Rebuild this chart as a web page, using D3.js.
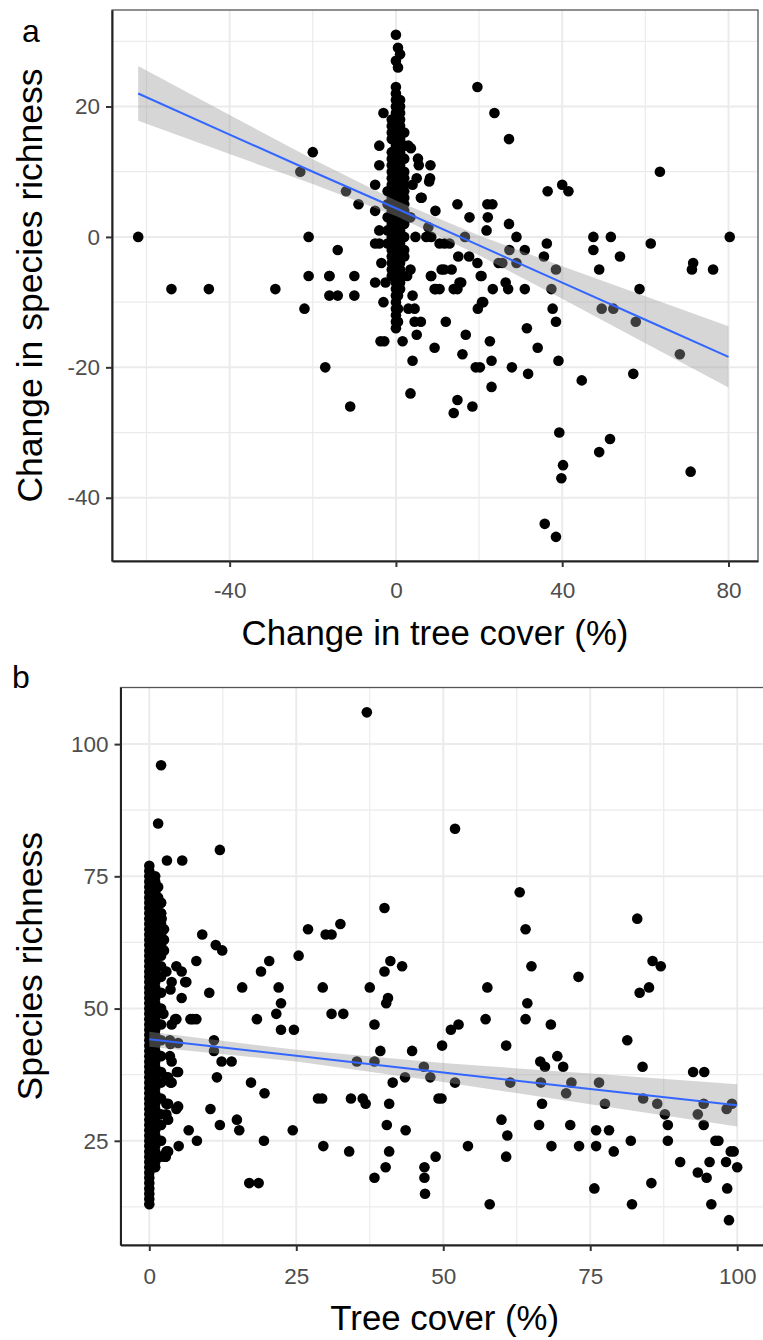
<!DOCTYPE html>
<html>
<head>
<meta charset="utf-8">
<script src="https://cdn.jsdelivr.net/npm/d3@7"></script>
<style>
	body { margin: 0; background: #fff; }
</style>
</head>
<body>
<svg id="chart"></svg>
<script>
// ---------- panel a: change in tree cover vs change in species richness ----------
const scatterA = [
	[-62, 0], [-54, -8], [-45, -8], [-29, -8], [-23, 10], [-20, 13], [-21, 0], [-21, -6],
	[-22, -11], [-17, -20], [-16, -6], [-16, -9], [-14, -9], [-14, -2], [-12, 7], [-11, -26],
	[-10, -6], [-10, -9], [-9, 5], [-5, 8], [-5, 4], [-4, 14], [-3, 19], [-4, 11],
	[-5, -1], [-4, -1], [-4, 1], [-3.5, -4], [-5, -7], [-2.5, -7], [-3, -10], [-3.7, -16],
	[-2.8, -16], [-16, -6],
	[1.6, -16], [4, -19], [3.5, -24], [3, -11], [4.5, -11], [4, -9], [4.5, -13], [6, -13],
	[5, -15], [2.7, -6], [3.5, -5], [3, 14], [3.6, 13.6], [5.3, 12], [5.5, 11], [8.3, 11],
	[8.2, 9], [5, 9], [4, 8], [6, 6], [3.5, 3], [4.7, 0], [7.8, 1.5], [9.5, 4],
	[7.3, 0], [8.5, 0], [10.5, -1], [11.7, -1], [12.9, -1], [8.5, -6], [11, -5], [13.4, -5],
	[9.3, -8], [10.5, -8], [13.9, -8], [15.3, -7], [9.3, -17], [12, -13], [14.8, 5], [17.7, 3],
	[16.6, 0], [15, -3], [17.6, -3], [19.6, -4], [20.4, -6], [16.8, -15], [16, -18], [14.8, -25],
	[13.9, -27], [18.4, -26], [19.2, -20], [19.7, -11], [20.7, -10], [19.6, 23], [23.7, 19], [27.2, 15],
	[21.8, 1], [22.1, 3], [22, 5], [23.2, 5], [23.3, -8], [24.7, -4], [25.6, -4], [26.4, -7],
	[27, -8], [27.2, 2], [29, 0], [27.3, -2], [29, -4], [31, -2], [31, -8], [22.6, -16],
	[23, -19], [23, -23], [27.9, -20], [31.5, -14], [31.8, -21], [34.1, -17], [36.3, -1], [35.6, -3],
	[38.5, -5], [37.4, -8], [37.7, -11], [38.5, -13], [36.5, 7], [40, 8], [41.5, 7], [39.1, -19],
	[44.7, -22], [39.3, -30], [40.2, -35], [39.8, -37], [35.8, -44], [38.5, -46], [47.5, 0], [51.7, 0],
	[47.5, -2], [48.9, -5], [53.9, -3], [49.5, -11], [52.3, -11], [58.6, -8], [57.7, -13], [61.3, -1],
	[63.5, 10], [48.9, -33], [51.5, -31], [57.1, -21], [68.3, -18], [71.5, -4], [71.2, -5], [76.3, -5],
	[70.9, -36], [80.3, 0], [8.4, -6], [11.6, -5], [14.8, -8], [15.7, -7], [9.6, -8], [20.2, -20],
	[21, -10], [20.6, -6], [6.2, 6], [8, 8.5]
];

// the dense column of plots with no change in tree cover: [x, list of y]
const columnA = [
	[0, [23, 22, 21, 20, 19, 18, 17, 16, 15, 14, 13, 12, 11, 10, 9, 8, 7, 6, 5, 4, 3, 2, 1, 0,
		-1, -2, -3, -4, -5, -6, -7, -8, -9, -10, -11, -12, -13, -14, 31, 27]],
	[0.5, [29, 26, -9, -11, -13]],
	[1, [28, 21, 20, 19, 18, 17, 16, 15, 14, 13, 12, 11, 10, 9, 8, 7, 6, 5, 4, 3, 2, 1, 0,
		-1, -2, -3, -4, -5, -6, -7, -8]],
	[-1, [18, 17, 16, 15, 13, 12, 11, 10, 9, 8, 7, 6, 5, 4, 3, 2, 1, 0, -1, -2, -3, -4, -5, -6]],
	[2, [16, 14, 12, 10, 9, 8, 7, 6, 5, 4, 3, 2, 0, -2, -3]],
	[-2, [7, 5, 3, 1, -1]]
];

// linear fit and its confidence band
const fitAx = [-62, -40, -20, 0, 20, 40, 60, 80];
const fitAy = [22.0, 15.7, 10.0, 4.4, -1.3, -7.0, -12.7, -18.4];
const fitAse = [4.2, 3.0, 1.9, 1.2, 1.5, 2.5, 3.6, 4.7];

const xTicksA = [-40, 0, 40, 80];
const xMinorA = [-60, -20, 20, 60];
const yTicksA = [-40, -20, 0, 20];
const yMinorA = [-30, -10, 10, 30];

// ---------- panel b: tree cover vs species richness ----------
const scatterB = [
	[37, 106], [2, 96], [1.5, 85], [52, 84], [3, 78], [5.6, 78], [12, 80], [63, 72],
	[40, 69], [64, 65], [83, 67], [27, 65], [30, 64], [31, 64], [32.5, 66], [9, 64],
	[11.3, 62], [12.4, 61], [8, 59], [4.6, 58], [5.5, 57], [20.4, 59], [19, 57], [25.4, 60],
	[41, 59], [40, 57], [43, 58], [65, 58], [73, 56], [85.6, 59], [87, 58], [85, 54],
	[83.4, 53], [15.8, 54], [22, 54], [22.4, 51], [22.4, 46], [10.2, 53], [29.5, 54], [37.5, 54],
	[40.6, 52], [40.3, 51], [57.5, 54], [64.3, 51], [64, 48], [57.2, 48], [68.3, 47], [18.3, 48],
	[21.6, 49], [24.6, 46], [31, 49], [33, 49], [38.3, 47], [51.3, 46], [52.6, 47], [7, 48],
	[8, 48], [4.4, 48], [81.3, 44], [11, 44], [11, 42], [12.3, 40], [14, 40], [39.3, 42],
	[44.7, 42], [49.8, 43], [60.7, 43], [35.3, 40], [38.3, 40], [66.5, 40], [67.3, 39], [69.4, 41],
	[70.4, 39], [83.9, 39], [46.7, 39], [47.8, 37], [43.5, 37], [41.4, 36], [52, 36], [61.4, 36],
	[66.6, 36], [71.8, 36], [76.5, 36], [70.9, 34], [92.5, 38], [94.4, 38], [77.5, 32], [84, 33],
	[86.4, 32], [87.7, 30], [93.3, 30], [94.3, 32], [98.2, 31], [99.1, 32], [17.3, 36], [19.6, 34],
	[11.5, 37], [4.7, 38], [3.2, 37], [3.6, 36], [49.2, 33], [49.7, 33], [28.7, 33], [29.4, 33],
	[34.3, 33], [36.3, 33], [36.8, 32], [40.8, 32], [66.8, 32], [10.4, 31], [4.6, 31], [2.9, 32],
	[14.9, 29], [15.3, 27], [12, 28], [6.7, 27], [8.1, 25], [5, 24], [2.9, 23], [2.7, 22],
	[24.4, 27], [19.5, 25], [40.4, 28], [43.6, 27], [29.6, 24], [34, 23], [40.8, 23], [40.2, 20],
	[38.3, 18], [17, 17], [18.6, 17], [46.8, 20], [46.8, 18], [46.9, 15], [48.7, 22], [54.2, 24],
	[57.9, 13], [59.9, 29], [60.9, 26], [60.7, 22], [66.3, 28], [68.4, 24], [71.6, 28], [73.1, 24],
	[76, 27], [76, 24], [78.2, 27], [79, 23], [75.7, 16], [81.9, 25], [82.1, 13], [85.4, 17],
	[88.2, 25], [90.3, 21], [93.3, 19], [94.8, 18], [95.3, 21], [95.6, 13], [96.3, 25], [96.8, 25],
	[98.9, 23], [99.4, 23], [98.1, 21], [100, 20], [98.3, 16], [98.6, 10], [88.2, 28], [94.3, 28],
	[2.1, 67], [6.3, 55], [3.8, 55], [2.9, 57], [5.5, 52], [7.4, 48], [4.6, 48], [3.8, 47],
	[2.4, 49], [3.5, 44], [4.9, 43.5], [3.5, 41], [3.8, 40], [4.9, 38], [2.9, 37], [3.8, 36],
	[3.2, 32], [4.9, 31.5], [2.9, 30], [3.2, 29], [3.2, 23], [2.8, 22], [1.5, 25], [3.6, 53.6],
	[6.1, 55], [3.6, 43.3], [2, 70], [2, 68], [2.5, 65], [2.5, 63], [2.5, 61], [1.5, 73], [1.5, 71]
];

// the dense column of plots with no tree cover: [x, list of y]
const columnB = [
	[0, [13, 14, 15, 16, 17, 18, 19, 20, 21, 22, 23, 24, 25, 26, 27, 28, 29, 30, 31, 32, 33, 34,
		35, 36, 37, 38, 39, 40, 41, 42, 43, 44, 45, 46, 47, 48, 49, 50, 51, 52, 53, 54, 55, 56,
		57, 58, 59, 60, 61, 62, 63, 64, 65, 66, 67, 68, 69, 70, 71, 72, 73, 74, 75, 76, 77]],
	[1, [20, 21, 22, 23, 24, 25, 26, 27, 28, 29, 30, 31, 32, 33, 34, 35, 36, 37, 38, 39, 40, 41,
		42, 43, 44, 45, 46, 47, 48, 49, 50, 51, 52, 53, 54, 55, 56, 57, 58, 59, 60, 61, 62, 63,
		64, 65, 66, 67, 68, 69, 70, 71, 72, 73, 74, 75]],
	[2, [22, 25, 28, 30, 33, 36, 38, 41, 44, 47, 50, 53, 56, 58, 60, 62, 64, 66, 68, 70]]
];

const fitBx = [0, 25, 50, 75, 100];
const fitBy = [44.2, 41.1, 37.9, 34.8, 31.7];
const fitBse = [1.4, 1.1, 1.8, 2.9, 4.0];

const xTicksB = [0, 25, 50, 75, 100];
const xMinorB = [12.5, 37.5, 62.5, 87.5];
const yTicksB = [25, 50, 75, 100];
const yMinorB = [12.5, 37.5, 62.5, 87.5];

// ---------- drawing ----------
const width = 763;
const height = 1340;
const FONT = "'Liberation Sans', Arial, sans-serif";

const svg = d3.select("#chart")
	.attr("width", width)
	.attr("height", height);

svg.append("rect")
	.attr("width", width)
	.attr("height", height)
	.attr("fill", "#fff");

function withColumn(scatter, column) {
	const pts = scatter.slice();
	column.forEach(([cx, ys]) => ys.forEach(v => pts.push([cx, v])));
	return pts;
}

function drawPanel(p) {
	const x = d3.scaleLinear().domain(p.xDomain).range([p.left, p.right]);
	const y = d3.scaleLinear().domain(p.yDomain).range([p.bottom, p.top]);

	svg.append("clipPath")
		.attr("id", p.id + "-clip")
		.append("rect")
		.attr("x", p.left)
		.attr("y", p.top)
		.attr("width", p.right - p.left)
		.attr("height", p.bottom - p.top);

	const plot = svg.append("g").attr("clip-path", `url(#${p.id}-clip)`);

	// grid lines, minor then major
	const grid = (vals, vertical, w) => {
		plot.append("g").selectAll("line")
			.data(vals)
			.enter().append("line")
			.attr("x1", d => vertical ? x(d) : p.left)
			.attr("x2", d => vertical ? x(d) : p.right)
			.attr("y1", d => vertical ? p.top : y(d))
			.attr("y2", d => vertical ? p.bottom : y(d))
			.attr("stroke", "#ebebeb")
			.attr("stroke-width", w);
	};
	grid(p.xMinor, true, 1.2);
	grid(p.yMinor, false, 1.2);
	grid(p.xTicks, true, 2);
	grid(p.yTicks, false, 2);

	// points
	plot.append("g").selectAll("circle")
		.data(p.points)
		.enter().append("circle")
		.attr("cx", d => x(d[0]))
		.attr("cy", d => y(d[1]))
		.attr("r", 5.3)
		.attr("fill", "#000");

	// confidence band + fitted line (drawn over the points, like geom_smooth)
	const fit = p.fitX.map((v, i) => ({ x: v, y: p.fitY[i], se: p.fitSe[i] }));

	const band = d3.area()
		.x(d => x(d.x))
		.y0(d => y(d.y - d.se))
		.y1(d => y(d.y + d.se));

	plot.append("path")
		.datum(fit)
		.attr("d", band)
		.attr("fill", "#999999")
		.attr("fill-opacity", 0.4);

	const line = d3.line()
		.x(d => x(d.x))
		.y(d => y(d.y));

	plot.append("path")
		.datum(fit)
		.attr("d", line)
		.attr("fill", "none")
		.attr("stroke", "#3366FF")
		.attr("stroke-width", 2);

	// panel border
	svg.append("rect")
		.attr("x", p.left)
		.attr("y", p.top)
		.attr("width", p.right - p.left)
		.attr("height", p.bottom - p.top)
		.attr("fill", "none")
		.attr("stroke", "#555")
		.attr("stroke-width", 1.3);

	// axes (plain hyphen for negatives, as in the original)
	const xAxis = svg.append("g")
		.attr("transform", `translate(0,${p.bottom})`)
		.call(d3.axisBottom(x).tickValues(p.xTicks).tickFormat(d => String(d))
			.tickSize(6).tickPadding(p.xPad).tickSizeOuter(0));

	const yAxis = svg.append("g")
		.attr("transform", `translate(${p.left},0)`)
		.call(d3.axisLeft(y).tickValues(p.yTicks).tickFormat(d => String(d))
			.tickSize(6).tickPadding(6).tickSizeOuter(0));

	[xAxis, yAxis].forEach(ax => {
		ax.select(".domain")
			.attr("stroke", "#222")
			.attr("stroke-width", 2);
		ax.selectAll(".tick line")
			.attr("stroke", "#333")
			.attr("stroke-width", 2);
		ax.selectAll(".tick text")
			.attr("fill", "#4d4d4d")
			.style("font-family", FONT)
			.style("font-size", "22.5px");
	});

	// axis titles
	svg.append("text")
		.attr("x", (p.left + Math.min(p.right, width)) / 2 + p.xTitleShift)
		.attr("y", p.xTitleY)
		.attr("text-anchor", "middle")
		.style("font-family", FONT)
		.style("font-size", "34.8px")
		.text(p.xTitle);

	svg.append("text")
		.attr("transform", `translate(42,${(p.top + p.bottom) / 2}) rotate(-90)`)
		.attr("text-anchor", "middle")
		.style("font-family", FONT)
		.style("font-size", "35.5px")
		.text(p.yTitle);

	// panel tag
	svg.append("text")
		.attr("x", p.tagX)
		.attr("y", p.tagY)
		.style("font-family", FONT)
		.style("font-size", "32px")
		.text(p.tag);
}

drawPanel({
	id: "a",
	points: withColumn(scatterA, columnA),
	fitX: fitAx, fitY: fitAy, fitSe: fitAse,
	xDomain: [-68.3, 87.1], yDomain: [-49.7, 34.8],
	left: 112, right: 758, top: 10, bottom: 561,
	xTicks: xTicksA, xMinor: xMinorA, yTicks: yTicksA, yMinor: yMinorA,
	xPad: 15, xTitle: "Change in tree cover (%)", xTitleY: 645, xTitleShift: 0,
	yTitle: "Change in species richness",
	tag: "a", tagX: 22, tagY: 42
});

drawPanel({
	id: "b",
	points: withColumn(scatterB, columnB),
	fitX: fitBx, fitY: fitBy, fitSe: fitBse,
	xDomain: [-4.9, 105], yDomain: [5.3, 110.7],
	left: 120.5, right: 766.6, top: 687.5, bottom: 1245,
	xTicks: xTicksB, xMinor: xMinorB, yTicks: yTicksB, yMinor: yMinorB,
	xPad: 17, xTitle: "Tree cover (%)", xTitleY: 1330, xTitleShift: 3,
	yTitle: "Species richness",
	tag: "b", tagX: 12, tagY: 688
});
</script>
</body>
</html>
